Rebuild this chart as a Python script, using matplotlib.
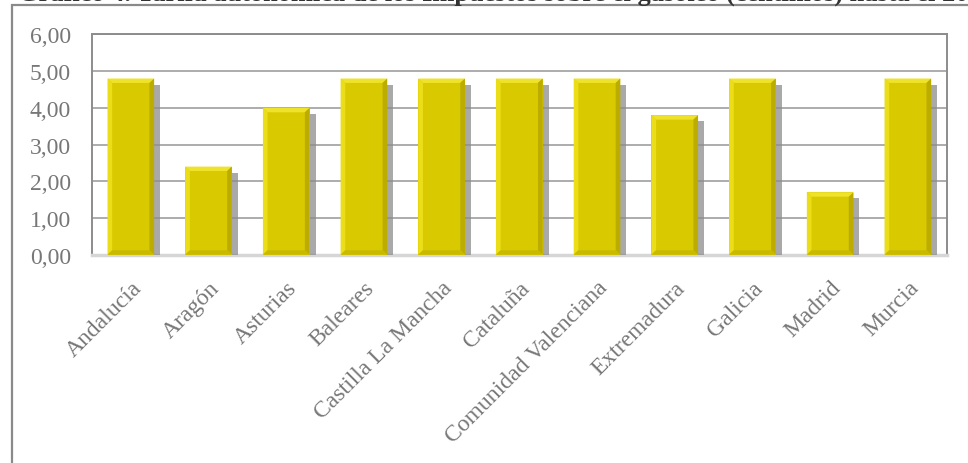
import matplotlib
matplotlib.use('Agg')
import matplotlib.pyplot as plt
import matplotlib.patheffects as pe
from matplotlib.patches import Polygon, Rectangle

regions = ['Andalucía', 'Aragón', 'Asturias', 'Baleares', 'Castilla La Mancha',
           'Cataluña', 'Comunidad Valenciana', 'Extremadura', 'Galicia',
           'Madrid', 'Murcia']
tarifa = [4.8, 2.4, 4.0, 4.8, 4.8, 4.8, 4.8, 3.8, 4.8, 1.7, 4.8]
yticks = [0, 1, 2, 3, 4, 5, 6]
title = ('Gráfico 4. Tarifa autonómica de los Impuestos sobre el gasóleo '
         '(céntimos) hasta el 2012')

plt.rcParams['font.family'] = ['Liberation Serif', 'DejaVu Serif']
grey = '#777777'

fig = plt.figure(figsize=(9.68, 4.64), dpi=100)
ax = fig.add_axes([0.095, 0.449, 0.883, 0.4745])

# outer chart frame and the heading above it (runs off the top edge)
fig.patches.append(Rectangle((12 / 968, -0.1), 1.2, 1.1 - 6 / 464,
                             transform=fig.transFigure, fill=False,
                             edgecolor='#8a8a8a', linewidth=1.6))
fig.text(18 / 968, 1 - 1 / 464, title, ha='left', va='baseline',
         fontsize=19, fontweight='bold', color='#333333')

xs = range(len(regions))
bars = ax.bar(xs, tarifa, width=0.6, color='#d8c900', zorder=3,
              path_effects=[pe.SimplePatchShadow(offset=(4.3, -4.3),
                                                 shadow_rgbFace='#8c8c8c',
                                                 alpha=0.75),
                            pe.Normal()])

# bevelled edges on each bar
bx, by = 0.06, 0.12
for b in bars:
    x0, w, h = b.get_x(), b.get_width(), b.get_height()
    x1 = x0 + w
    faces = [
        ([(x0, h), (x1, h), (x1 - bx, h - by), (x0 + bx, h - by)], '#efe22a'),
        ([(x0, 0), (x0, h), (x0 + bx, h - by), (x0 + bx, by)], '#ebdd18'),
        ([(x1, 0), (x1, h), (x1 - bx, h - by), (x1 - bx, by)], '#bcac00'),
        ([(x0, 0), (x1, 0), (x1 - bx, by), (x0 + bx, by)], '#c9b900'),
    ]
    for pts, c in faces:
        ax.add_patch(Polygon(pts, closed=True, facecolor=c, edgecolor='none',
                             zorder=4))

ax.set_xlim(-0.5, len(regions) - 0.5)
ax.set_ylim(0, 6)
ax.set_yticks(yticks)
ax.set_yticklabels([f'{v:.2f}'.replace('.', ',') for v in yticks])
ax.set_xticks(list(xs))
ax.set_xticklabels(regions, rotation=45, ha='right', rotation_mode='anchor')
ax.tick_params(axis='both', length=0, labelsize=17, labelcolor=grey)
ax.tick_params(axis='y', pad=15)
ax.tick_params(axis='x', pad=16)

ax.grid(axis='y', color='#a6a6a6', linewidth=1.3, zorder=0)
for s in ['left', 'top', 'right']:
    ax.spines[s].set_color('#8c8c8c')
    ax.spines[s].set_linewidth(1.4)
ax.spines['bottom'].set_color('#d6d6d6')
ax.spines['bottom'].set_linewidth(2.5)

fig.savefig('out.png', dpi=100)
